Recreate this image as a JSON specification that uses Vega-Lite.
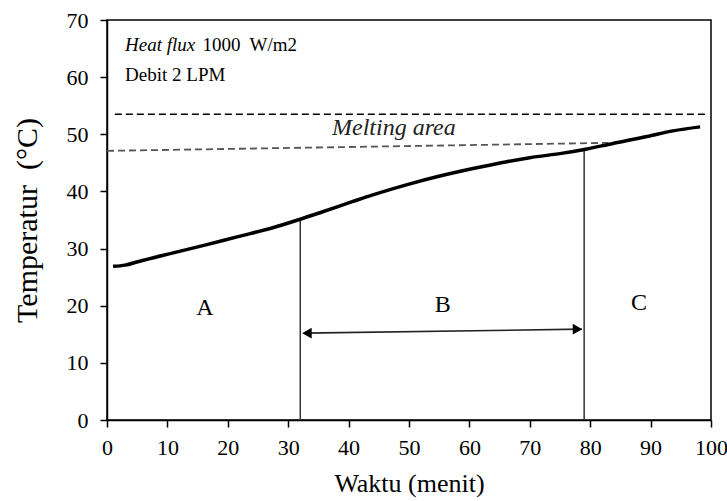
{
  "$schema": "https://vega.github.io/schema/vega-lite/v6.json",
  "width": 604,
  "height": 400,
  "autosize": {"type": "none"},
  "padding": {"left": 107, "top": 20, "right": 16, "bottom": 81},
  "background": "white",
  "config": {
    "font": "Liberation Serif",
    "view": {"stroke": "#000", "strokeWidth": 1.5},
    "axis": {"grid": false, "domainColor": "#000", "domainWidth": 1.5, "tickColor": "#000", "tickWidth": 1.5, "tickSize": 7, "labelColor": "#000", "titleColor": "#000", "labelFont": "Liberation Serif", "titleFont": "Liberation Serif", "titleFontWeight": "normal", "labelFontSize": 22, "titleFontSize": 26}
  },
  "datasets": {
    "curve": [
      {"x": 1.0, "y": 26.9}, {"x": 3.0, "y": 27.1}, {"x": 5.1, "y": 27.7}, {"x": 10.8, "y": 29.2},
      {"x": 16.2, "y": 30.6}, {"x": 21.7, "y": 32.1}, {"x": 27.3, "y": 33.6}, {"x": 31.6, "y": 35.0},
      {"x": 35.6, "y": 36.4}, {"x": 40.6, "y": 38.2}, {"x": 44.0, "y": 39.4}, {"x": 49.7, "y": 41.2},
      {"x": 55.1, "y": 42.7}, {"x": 60.6, "y": 44.0}, {"x": 66.2, "y": 45.2}, {"x": 70.0, "y": 45.9},
      {"x": 75.5, "y": 46.7}, {"x": 78.6, "y": 47.25}, {"x": 83.8, "y": 48.4}, {"x": 89.4, "y": 49.6},
      {"x": 93.7, "y": 50.6}, {"x": 98.2, "y": 51.3}
    ],
    "topDash": [{"x": 1.3, "y": 53.5}, {"x": 99.0, "y": 53.5}],
    "lowDash": [{"x": 0.0, "y": 47.1}, {"x": 83.0, "y": 48.5}],
    "verticals": [{"x": 32.0, "y": 0, "y2": 35.0}, {"x": 79.0, "y": 0, "y2": 47.3}],
    "arrowLine": [{"x": 32.6, "y": 15.2}, {"x": 78.6, "y": 15.9}],
    "heads": [{"x": 33.1, "y": 15.2, "dir": "triangle-left"}, {"x": 77.9, "y": 15.9, "dir": "triangle-right"}],
    "regions": [{"x": 16.2, "y": 19.6, "label": "A"}, {"x": 55.6, "y": 20.1, "label": "B"}, {"x": 88.1, "y": 20.5, "label": "C"}],
    "italicNotes": [{"x": 3.0, "y": 65.6, "label": "Heat flux"}],
    "meltNote": [{"x": 47.5, "y": 51.1, "label": "Melting area"}],
    "plainNotes": [{"x": 15.8, "y": 65.6, "label": "1000\u00a0 W/m2"}, {"x": 3.0, "y": 60.4, "label": "Debit 2 LPM"}]
  },
  "encoding": {
    "x": {"field": "x", "type": "quantitative", "scale": {"domain": [0, 100], "nice": false, "zero": false},
      "axis": {"title": "Waktu (menit)", "values": [0, 10, 20, 30, 40, 50, 60, 70, 80, 90, 100], "labelPadding": 10, "titlePadding": 12, "labelFlush": false}},
    "y": {"field": "y", "type": "quantitative", "scale": {"domain": [0, 70], "nice": false, "zero": false},
      "axis": {"title": "Temperatur\u00a0 (°C)", "values": [0, 10, 20, 30, 40, 50, 60, 70], "labelPadding": 12, "titleX": -80, "titleY": 200, "titleAngle": -90, "titleAlign": "center", "titleBaseline": "middle", "titleFontSize": 30}}
  },
  "layer": [
    {"data": {"name": "topDash"}, "mark": {"type": "line", "color": "#000", "strokeWidth": 1.4, "strokeDash": [7, 4]}},
    {"data": {"name": "lowDash"}, "mark": {"type": "line", "color": "#555", "strokeWidth": 1.8, "strokeDash": [7, 4]}},
    {"data": {"name": "verticals"}, "mark": {"type": "rule", "color": "#333", "strokeWidth": 1.5}, "encoding": {"y2": {"field": "y2"}}},
    {"data": {"name": "arrowLine"}, "mark": {"type": "line", "color": "#222", "strokeWidth": 1.6}},
    {"data": {"name": "heads"}, "mark": {"type": "point", "filled": true, "color": "#000", "size": 120, "opacity": 1}, "encoding": {"shape": {"field": "dir", "type": "nominal", "scale": null}}},
    {"data": {"name": "curve"}, "mark": {"type": "line", "color": "#000", "strokeWidth": 3.5, "interpolate": "monotone"}},
    {"data": {"name": "regions"}, "mark": {"type": "text", "fontSize": 24, "color": "#000", "align": "center", "baseline": "middle"}, "encoding": {"text": {"field": "label"}}},
    {"data": {"name": "italicNotes"}, "mark": {"type": "text", "fontSize": 19, "fontStyle": "italic", "color": "#000", "align": "left", "baseline": "middle"}, "encoding": {"text": {"field": "label"}}},
    {"data": {"name": "meltNote"}, "mark": {"type": "text", "fontSize": 24, "fontStyle": "italic", "color": "#222", "align": "center", "baseline": "middle"}, "encoding": {"text": {"field": "label"}}},
    {"data": {"name": "plainNotes"}, "mark": {"type": "text", "fontSize": 19, "color": "#000", "align": "left", "baseline": "middle"}, "encoding": {"text": {"field": "label"}}}
  ]
}
